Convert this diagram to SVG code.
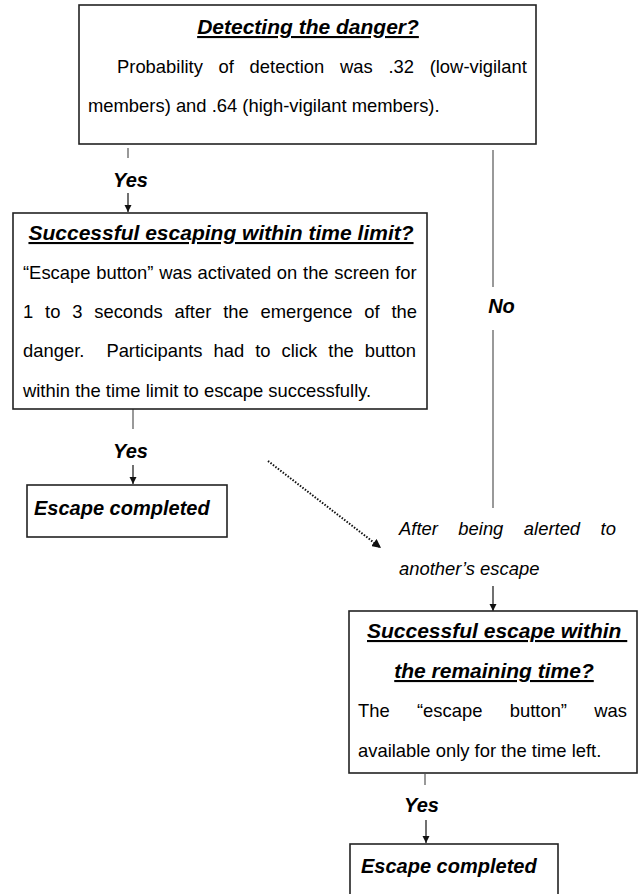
<svg xmlns="http://www.w3.org/2000/svg" width="638" height="894" viewBox="0 0 638 894">
<style>
.box{fill:#fff;stroke:#222;stroke-width:1.6}
.title{font-family:"Liberation Sans",Arial,sans-serif;font-size:21px;font-weight:bold;font-style:italic;text-decoration:underline;fill:#000}
.body{font-family:"Liberation Sans",Arial,sans-serif;font-size:18.4px;fill:#000;white-space:pre}
.it{font-family:"Liberation Sans",Arial,sans-serif;font-size:18.4px;font-style:italic;fill:#000;white-space:pre}
.lbl{font-family:"Liberation Sans",Arial,sans-serif;font-size:20px;font-weight:bold;font-style:italic;fill:#000}
.ln{stroke:#555;stroke-width:1.2;fill:none}
.ar{stroke:#111;stroke-width:1.2;fill:none;marker-end:url(#ah)}
.dot{stroke:#111;stroke-width:2;fill:none;stroke-dasharray:1.5 1.6;marker-end:url(#ah2)}
</style>
<defs>
<marker id="ah" viewBox="0 0 10 10" markerUnits="userSpaceOnUse" markerWidth="7" markerHeight="8" refX="10" refY="5" orient="auto">
<path d="M0,0 L10,5 L0,10 Z" fill="#111"/>
</marker>
<marker id="ah2" viewBox="0 0 10 10" markerUnits="userSpaceOnUse" markerWidth="9" markerHeight="9" refX="10" refY="5" orient="auto">
<path d="M0,0 L10,5 L0,10 Z" fill="#111"/>
</marker>
</defs>

<g id="connectors">
<line class="ln" x1="128" y1="148" x2="128" y2="158"/>
<text class="lbl" x="130.5" y="187" text-anchor="middle">Yes</text>
<line class="ar" x1="128" y1="193" x2="128" y2="212"/>

<line class="ln" x1="493" y1="150" x2="493" y2="287"/>
<text class="lbl" x="501.5" y="313" text-anchor="middle">No</text>
<line class="ln" x1="493" y1="330" x2="493" y2="508"/>

<line class="ln" x1="133" y1="409" x2="133" y2="429"/>
<text class="lbl" x="130.5" y="458" text-anchor="middle">Yes</text>
<line class="ar" x1="133" y1="465" x2="133" y2="484"/>

<line class="dot" x1="268" y1="461" x2="381" y2="548"/>

<line class="ar" x1="493" y1="586" x2="493" y2="611"/>

<line class="ln" x1="425" y1="774" x2="425" y2="785"/>
<text class="lbl" x="421.5" y="812" text-anchor="middle">Yes</text>
<line class="ar" x1="426" y1="820" x2="426" y2="843"/>
</g>

<g id="detect">
<rect class="box" x="79" y="5" width="457" height="139"/>
<text class="title" x="308" y="34" text-anchor="middle">Detecting the danger?</text>
<text class="body" x="117" y="72.5" word-spacing="10.6">Probability of detection was .32 (low-vigilant</text>
<text class="body" x="88" y="111.5">members) and .64 (high-vigilant members).</text>
</g>

<g id="escape1">
<rect class="box" x="13" y="213" width="414" height="196"/>
<text class="title" x="221" y="240" text-anchor="middle">Successful escaping within time limit?</text>
<text class="body" x="23" y="279" word-spacing="0.6">“Escape button” was activated on the screen for</text>
<text class="body" x="23" y="318" word-spacing="6.7">1 to 3 seconds after the emergence of the</text>
<text class="body" x="23" y="357" word-spacing="5.9">danger.  Participants had to click the button</text>
<text class="body" x="23" y="396.5">within the time limit to escape successfully.</text>
</g>

<g id="done1">
<rect class="box" x="27" y="485" width="200" height="52"/>
<text class="lbl" x="34" y="515">Escape completed</text>
</g>

<g id="alerted">
<text class="it" x="399" y="535" word-spacing="15.4">After being alerted to</text>
<text class="it" x="399" y="575">another’s escape</text>
</g>

<g id="escape2">
<rect class="box" x="349" y="611" width="288" height="162"/>
<text class="title" x="367" y="638" style="white-space:pre">Successful escape within </text>
<text class="title" x="494" y="678" text-anchor="middle">the remaining time?</text>
<text class="body" x="358" y="717" word-spacing="22.2">The “escape button” was</text>
<text class="body" x="358" y="757">available only for the time left.</text>
</g>

<g id="done2">
<rect class="box" x="350" y="844" width="208" height="60"/>
<text class="lbl" x="361" y="872.5">Escape completed</text>
</g>
</svg>
